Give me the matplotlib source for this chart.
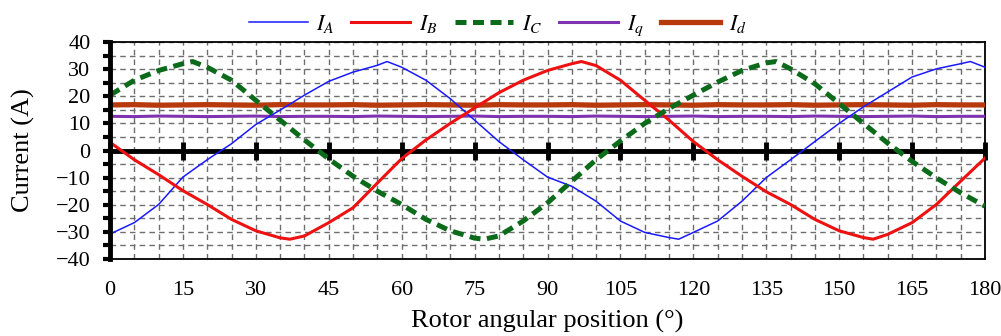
import numpy as np
import matplotlib
matplotlib.use("Agg")
import matplotlib.pyplot as plt
from matplotlib.ticker import MultipleLocator

# ---------------- data ----------------
angle_a = [0, 5, 10, 15, 20, 25, 30, 35, 40, 45, 50, 55, 57, 60, 65, 70, 75, 80, 85, 90,
           95, 100, 105, 110, 115, 117, 120, 125, 130, 135, 140, 145, 150, 155, 160, 165,
           170, 175, 177, 180]
i_a = [-30.8, -26.6, -19.9, -9.8, -3.4, 2.5, 9.6, 14.9, 20.4, 25.5, 28.9, 31.4, 32.8, 30.7,
       25.9, 19.1, 11.2, 3.3, -3.4, -9.8, -13.2, -18.7, -26.0, -30.2, -32.1, -32.7, -30.2,
       -26.0, -18.7, -10.0, -3.4, 3.3, 10.0, 16.1, 21.6, 27.1, 30.1, 32.0, 32.8, 30.7]

angle_b = [0, 5, 10, 15, 20, 25, 30, 35, 37, 40, 45, 50, 55, 60, 65, 70, 75, 80, 85, 90,
           95, 97, 100, 105, 110, 115, 120, 125, 130, 135, 140, 145, 150, 155, 157, 160, 165,
           170, 175, 180]
i_b = [3.0, -3.4, -8.9, -14.8, -19.9, -25.4, -29.6, -32.2, -32.7, -31.5, -26.6, -21.1,
       -12.0, -3.0, 3.9, 10.0, 15.7, 21.3, 25.9, 29.5, 32.0, 32.8, 31.3, 25.9, 18.5, 11.2,
       3.3, -3.4, -9.5, -15.2, -19.9, -25.4, -29.6, -32.1, -32.7, -30.9, -26.6, -19.9,
       -11.3, -2.8]

angle_c = [0, 5, 10, 15, 17, 20, 25, 30, 35, 40, 45, 50, 55, 60, 65, 70, 75, 77, 80, 85, 90,
           95, 100, 105, 110, 115, 120, 125, 130, 135, 137, 140, 145, 150, 155, 160, 165,
           170, 175, 180]
i_c = [20.4, 25.9, 29.5, 32.0, 32.8, 30.7, 25.9, 18.5, 11.2, 3.9, -3.1, -9.5, -15.0, -19.9,
       -25.4, -29.6, -32.3, -32.7, -31.5, -26.0, -19.3, -11.3, -3.4, 3.5, 10.0, 15.5, 20.4,
       25.2, 29.5, 32.3, 32.8, 30.1, 24.6, 17.3, 10.0, 2.7, -4.0, -10.1, -15.6, -20.5]

angle_dq = [0, 5, 10, 15, 20, 25, 30, 35, 40, 45, 50, 55, 60, 65, 70, 75, 80, 85, 90,
            95, 100, 105, 110, 115, 120, 125, 130, 135, 140, 145, 150, 155, 160, 165,
            170, 175, 180]
i_q = [12.6, 12.5, 12.7, 12.6, 12.5, 12.6, 12.7, 12.5, 12.6, 12.6, 12.5, 12.7, 12.6,
       12.5, 12.6, 12.7, 12.5, 12.6, 12.6, 12.5, 12.7, 12.6, 12.5, 12.6, 12.7, 12.5,
       12.6, 12.6, 12.5, 12.7, 12.6, 12.5, 12.6, 12.7, 12.5, 12.6, 12.6]
i_d = [16.8, 16.9, 16.7, 16.8, 16.9, 16.8, 16.7, 16.9, 16.8, 16.8, 16.9, 16.7, 16.8,
       16.9, 16.8, 16.7, 16.9, 16.8, 16.8, 16.9, 16.7, 16.8, 16.9, 16.8, 16.7, 16.9,
       16.8, 16.8, 16.9, 16.7, 16.8, 16.9, 16.8, 16.7, 16.9, 16.8, 16.8]

x_ticks = [0, 15, 30, 45, 60, 75, 90, 105, 120, 135, 150, 165, 180]
y_ticks = [-40, -30, -20, -10, 0, 10, 20, 30, 40]
labels = ["$I_A$", "$I_B$", "$I_C$", "$I_q$", "$I_d$"]

# ---------------- figure ----------------
plt.rcParams["font.family"] = ["Liberation Serif", "DejaVu Serif"]
plt.rcParams["mathtext.fontset"] = "stix"

W, H = 1001, 336
fig = plt.figure(figsize=(W / 100, H / 100), dpi=100)
ax = fig.add_axes([110 / W, 1 - 259 / H, 875 / W, 217 / H])

ax.set_xlim(0, 180)
ax.set_ylim(-40, 40)

ax.xaxis.set_minor_locator(MultipleLocator(5))
ax.yaxis.set_minor_locator(MultipleLocator(5))
ax.set_xticks(x_ticks)
ax.set_yticks(y_ticks)
ax.grid(which="both", color="#6e6e6e", linestyle=(0, (4, 3)), linewidth=1.0)
ax.set_axisbelow(True)

# zero line with tick marks
ax.axhline(0, color="black", lw=3.5, zorder=4)
ax.plot(x_ticks, [0] * len(x_ticks), linestyle="none", marker="|", ms=13,
        mew=3.5, color="black", zorder=5, clip_on=False)

# series
l1, = ax.plot(angle_a, i_a, color="#1a1aff", lw=1.1, zorder=6)
l2, = ax.plot(angle_b, i_b, color="#ee1111", lw=2.2, zorder=6)
l3, = ax.plot(angle_c, i_c, color="#0b6b1a", lw=3.6, linestyle=(0, (2.2, 1.3)), zorder=6)
l4, = ax.plot(angle_dq, i_q, color="#8033b0", lw=2.2, zorder=5)
l5, = ax.plot(angle_dq, i_d, color="#b83a0c", lw=3.8, zorder=5)

# spines
for s in ["top", "right", "bottom"]:
    ax.spines[s].set_linewidth(1.3)
    ax.spines[s].set_color("black")
ax.spines["left"].set_linewidth(3.5)
ax.spines["left"].set_zorder(7)

ax.tick_params(axis="x", which="both", length=0, labelsize=16, pad=16)
ax.tick_params(axis="y", which="both", length=5, width=3, direction="out",
               labelsize=16, pad=9)

ax.set_xlabel("Rotor angular position (°)", fontsize=19, va="center")
ax.xaxis.set_label_coords(0.5, -(321.5 - 259) / 217)
ax.set_ylabel("Current (A)", fontsize=19, va="center", ha="center")
ax.yaxis.set_label_coords((23 - 110) / 875, 0.5)

fig.legend([l1, l2, l3, l4, l5], labels, loc="upper center",
           bbox_to_anchor=(0.497, 1.022), ncol=5, frameon=False, fontsize=16,
           handlelength=2.65, handletextpad=0.4, columnspacing=0.75)

fig.savefig("out.png", dpi=100)
